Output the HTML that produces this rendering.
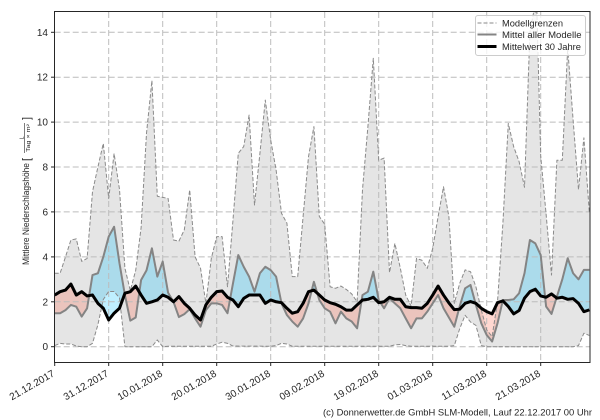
<!DOCTYPE html>
<html><head><meta charset="utf-8"><style>
html,body{margin:0;padding:0;background:#fff;width:600px;height:420px;overflow:hidden;}
svg{display:block;font-family:"Liberation Sans","DejaVu Sans",sans-serif;overflow:hidden;}
</style></head><body>
<svg width="600" height="420" viewBox="0 0 600 420" xmlns="http://www.w3.org/2000/svg">
<rect x="0" y="0" width="600" height="420" fill="#fff"/>
<defs>
<clipPath id="ax"><rect x="54.7" y="12" width="535.3" height="350.3"/></clipPath>
<clipPath id="aboveC" clipPathUnits="userSpaceOnUse"><polygon points="0,2.3 1,2.45 2,2.52 3,2.79 4,2.3 5,2.45 6,2.26 7,2.3 8,1.93 9,1.71 10,1.19 11,1.49 12,1.71 13,2.38 14,2.45 15,2.7 16,2.3 17,1.93 18,2 19,2.08 20,2.3 21,2.2 22,2 23,2.23 24,1.93 25,1.71 26,1.41 27,1.19 28,1.86 29,2.2 30,2.45 31,2.48 32,2.2 33,2.08 34,1.78 35,2.15 36,2.3 37,2.3 38,2.3 39,1.93 40,2.08 41,2 42,1.96 43,1.71 44,1.49 45,1.56 46,1.93 47,2.45 48,2.52 49,2.3 50,2.08 51,1.96 52,1.89 53,1.78 54,1.63 55,1.63 56,1.86 57,2.08 58,2.11 59,2.2 60,1.96 61,2 62,2.2 63,2.11 64,2.11 65,1.78 66,1.74 67,1.74 68,1.71 69,1.93 70,2.3 71,2.7 72,2.3 73,1.95 74,1.65 75,1.67 76,1.93 77,2.01 78,1.93 79,1.71 80,1.56 81,1.46 82,1.96 83,2.04 84,1.79 85,1.46 86,1.61 87,2.16 88,2.45 89,2.56 90,2.26 91,2.2 92,2.35 93,2.16 94,2.2 95,2.11 96,2.14 97,1.93 98,1.56 99,1.64 99.5,1.64 99.5,14.9 0,14.9"/></clipPath>
<clipPath id="belowC" clipPathUnits="userSpaceOnUse"><polygon points="0,2.3 1,2.45 2,2.52 3,2.79 4,2.3 5,2.45 6,2.26 7,2.3 8,1.93 9,1.71 10,1.19 11,1.49 12,1.71 13,2.38 14,2.45 15,2.7 16,2.3 17,1.93 18,2 19,2.08 20,2.3 21,2.2 22,2 23,2.23 24,1.93 25,1.71 26,1.41 27,1.19 28,1.86 29,2.2 30,2.45 31,2.48 32,2.2 33,2.08 34,1.78 35,2.15 36,2.3 37,2.3 38,2.3 39,1.93 40,2.08 41,2 42,1.96 43,1.71 44,1.49 45,1.56 46,1.93 47,2.45 48,2.52 49,2.3 50,2.08 51,1.96 52,1.89 53,1.78 54,1.63 55,1.63 56,1.86 57,2.08 58,2.11 59,2.2 60,1.96 61,2 62,2.2 63,2.11 64,2.11 65,1.78 66,1.74 67,1.74 68,1.71 69,1.93 70,2.3 71,2.7 72,2.3 73,1.95 74,1.65 75,1.67 76,1.93 77,2.01 78,1.93 79,1.71 80,1.56 81,1.46 82,1.96 83,2.04 84,1.79 85,1.46 86,1.61 87,2.16 88,2.45 89,2.56 90,2.26 91,2.2 92,2.35 93,2.16 94,2.2 95,2.11 96,2.14 97,1.93 98,1.56 99,1.64 99.5,1.64 99.5,-0.69 0,-0.69"/></clipPath>
</defs>

<g clip-path="url(#ax)">
 <g transform="translate(54.7 346.7) scale(5.4 -22.46)">
  <polygon fill="#e5e5e5" points="0,3.27 1,3.27 2,4 3,4.75 4,4.8 5,3.8 6,3.93 7,6.9 8,8 9,9.05 10,6.6 11,8.6 12,7 13,3.5 14,2.5 15,3.4 16,5.3 17,9.5 18,11.85 19,6.7 20,6.65 21,6.6 22,4.75 23,4.7 24,5.2 25,6.98 26,4 27,3.5 28,1.93 29,3.93 30,4.9 31,4.9 32,2.67 33,5.6 34,8.61 35,8.91 36,10.31 37,6.31 38,8.6 39,10.98 40,9.2 41,7.87 42,5.94 43,5.5 44,3.12 45,3.12 46,5.8 47,8.46 48,9.8 49,5.8 50,5.45 51,2.67 52,2.6 53,2.7 54,2.55 55,2.35 56,2 57,7 58,9.8 59,12.84 60,8.3 61,8.4 62,3.3 63,4.6 64,3.5 65,2.3 66,1.8 67,3.93 68,3.85 69,3.49 70,4.38 71,5.79 72,7.12 73,5.79 74,1.93 75,2.82 76,3.42 77,3.34 78,2.67 79,1.64 80,0.75 81,0.45 82,2 83,5.5 84,9.94 85,8.9 86,8.24 87,7.1 88,14 88.7,14.9 89.3,14.9 90,8.5 91,5.9 92,3.19 93,8.3 94,8.3 95,13.3 96,10.1 97,7 98,9.3 99,6 99,0.5 98,0.6 97,0.05 96,0 80,0 79,0.05 78,0.95 77,1.1 76,1.4 75,0.8 74,0.05 73,0.02 66,0.02 65,0.05 64,0.1 63,0.08 62,0.02 44,0.02 43,0.12 42,0.15 41,0.05 40,0.02 33,0.03 32,0.15 31,0.2 30,0.12 29,0.02 21,0.02 20,0 19,0.3 18,0 13,0 12,2.17 11,2.46 10,2.46 9,2.1 8,0.98 7,0.15 6,0 5,0 4,0.03 3,0.12 2,0.12 1,0.15 0,0.05"/>
  <polygon fill="#00bfff" fill-opacity="0.25" clip-path="url(#aboveC)" points="0,1.49 1,1.49 2,1.63 3,1.86 4,1.78 5,1.34 6,1.71 7,3.19 8,3.27 9,4 10,4.9 11,5.34 12,3.71 13,2.3 14,1.16 15,1.3 16,2.97 17,3.4 18,4.38 19,3.12 20,3.79 21,2.4 22,2 23,1.32 24,1.45 25,1.67 26,1.26 27,0.89 28,1.63 29,1.93 30,1.93 31,1.86 32,1.49 33,2.8 34,4.08 35,3.56 36,3.12 37,2.45 38,3.27 39,3.56 40,3.41 41,3.12 42,1.93 43,1.41 44,1.12 45,0.89 46,1.26 47,1.93 48,2.89 49,2.08 50,1.71 51,1.56 52,1.04 53,1.56 54,1.26 55,1.12 56,0.82 57,2.3 58,2.45 59,3.34 60,2.08 61,1.71 62,2.15 63,1.93 64,1.71 65,1.26 66,0.82 67,1.26 68,1.26 69,1.56 70,1.93 71,2.3 72,1.71 73,1.3 74,0.89 75,1.8 76,2.6 77,2.75 78,1.86 79,1.04 80,0.52 81,0.23 82,1.04 83,2.08 84,2.08 85,2.11 86,2.38 87,3.27 88,4.75 89,4.6 90,4.08 91,1.79 92,1.46 93,2.23 94,3 95,3.94 96,3.27 97,3 98,3.42 99,3.42 99,-0.69 0,-0.69"/>
  <polygon fill="#ff6347" fill-opacity="0.25" clip-path="url(#belowC)" points="0,1.49 1,1.49 2,1.63 3,1.86 4,1.78 5,1.34 6,1.71 7,3.19 8,3.27 9,4 10,4.9 11,5.34 12,3.71 13,2.3 14,1.16 15,1.3 16,2.97 17,3.4 18,4.38 19,3.12 20,3.79 21,2.4 22,2 23,1.32 24,1.45 25,1.67 26,1.26 27,0.89 28,1.63 29,1.93 30,1.93 31,1.86 32,1.49 33,2.8 34,4.08 35,3.56 36,3.12 37,2.45 38,3.27 39,3.56 40,3.41 41,3.12 42,1.93 43,1.41 44,1.12 45,0.89 46,1.26 47,1.93 48,2.89 49,2.08 50,1.71 51,1.56 52,1.04 53,1.56 54,1.26 55,1.12 56,0.82 57,2.3 58,2.45 59,3.34 60,2.08 61,1.71 62,2.15 63,1.93 64,1.71 65,1.26 66,0.82 67,1.26 68,1.26 69,1.56 70,1.93 71,2.3 72,1.71 73,1.3 74,0.89 75,1.8 76,2.6 77,2.75 78,1.86 79,1.04 80,0.52 81,0.23 82,1.04 83,2.08 84,2.08 85,2.11 86,2.38 87,3.27 88,4.75 89,4.6 90,4.08 91,1.79 92,1.46 93,2.23 94,3 95,3.94 96,3.27 97,3 98,3.42 99,3.42 99,14.9 0,14.9"/>
 </g>

 <g stroke="#bcbcbc" stroke-width="1" stroke-dasharray="6 3" fill="none">
  <line x1="54.7" y1="346.7" x2="590" y2="346.7"/>
  <line x1="54.7" y1="301.8" x2="590" y2="301.8"/>
  <line x1="54.7" y1="256.9" x2="590" y2="256.9"/>
  <line x1="54.7" y1="211.9" x2="590" y2="211.9"/>
  <line x1="54.7" y1="167" x2="590" y2="167"/>
  <line x1="54.7" y1="122.1" x2="590" y2="122.1"/>
  <line x1="54.7" y1="77.2" x2="590" y2="77.2"/>
  <line x1="54.7" y1="32.3" x2="590" y2="32.3"/>
  <line x1="108.7" y1="12" x2="108.7" y2="362"/>
  <line x1="162.7" y1="12" x2="162.7" y2="362"/>
  <line x1="216.7" y1="12" x2="216.7" y2="362"/>
  <line x1="270.7" y1="12" x2="270.7" y2="362"/>
  <line x1="324.7" y1="12" x2="324.7" y2="362"/>
  <line x1="378.7" y1="12" x2="378.7" y2="362"/>
  <line x1="432.7" y1="12" x2="432.7" y2="362"/>
  <line x1="486.7" y1="12" x2="486.7" y2="362"/>
  <line x1="540.7" y1="12" x2="540.7" y2="362"/>
 </g>

 <g transform="translate(54.7 346.7) scale(5.4 -22.46)" fill="none" stroke-linejoin="round">
  <polyline vector-effect="non-scaling-stroke" stroke="#8a8a8a" stroke-width="1" stroke-dasharray="4 2" points="0,3.27 1,3.27 2,4 3,4.75 4,4.8 5,3.8 6,3.93 7,6.9 8,8 9,9.05 10,6.6 11,8.6 12,7 13,3.5 14,2.5 15,3.4 16,5.3 17,9.5 18,11.85 19,6.7 20,6.65 21,6.6 22,4.75 23,4.7 24,5.2 25,6.98 26,4 27,3.5 28,1.93 29,3.93 30,4.9 31,4.9 32,2.67 33,5.6 34,8.61 35,8.91 36,10.31 37,6.31 38,8.6 39,10.98 40,9.2 41,7.87 42,5.94 43,5.5 44,3.12 45,3.12 46,5.8 47,8.46 48,9.8 49,5.8 50,5.45 51,2.67 52,2.6 53,2.7 54,2.55 55,2.35 56,2 57,7 58,9.8 59,12.84 60,8.3 61,8.4 62,3.3 63,4.6 64,3.5 65,2.3 66,1.8 67,3.93 68,3.85 69,3.49 70,4.38 71,5.79 72,7.12 73,5.79 74,1.93 75,2.82 76,3.42 77,3.34 78,2.67 79,1.64 80,0.75 81,0.45 82,2 83,5.5 84,9.94 85,8.9 86,8.24 87,7.1 88,14 88.7,14.9 89.3,14.9 90,8.5 91,5.9 92,3.19 93,8.3 94,8.3 95,13.3 96,10.1 97,7 98,9.3 99,6"/>
  <polyline vector-effect="non-scaling-stroke" stroke="#8a8a8a" stroke-width="1" stroke-dasharray="4 2" points="0,0.05 1,0.15 2,0.12 3,0.12 4,0.03 5,0 6,0 7,0.15 8,0.98 9,2.1 10,2.46 11,2.46 12,2.17 13,0 18,0 19,0.3 20,0 21,0.02 29,0.02 30,0.12 31,0.2 32,0.15 33,0.03 40,0.02 41,0.05 42,0.15 43,0.12 44,0.02 62,0.02 63,0.08 64,0.1 65,0.05 66,0.02 73,0.02 74,0.05 75,0.8 76,1.4 77,1.1 78,0.95 79,0.05 80,0 96,0 97,0.05 98,0.6 99,0.5"/>
  <polyline vector-effect="non-scaling-stroke" stroke="#848484" stroke-width="2" points="0,1.49 1,1.49 2,1.63 3,1.86 4,1.78 5,1.34 6,1.71 7,3.19 8,3.27 9,4 10,4.9 11,5.34 12,3.71 13,2.3 14,1.16 15,1.3 16,2.97 17,3.4 18,4.38 19,3.12 20,3.79 21,2.4 22,2 23,1.32 24,1.45 25,1.67 26,1.26 27,0.89 28,1.63 29,1.93 30,1.93 31,1.86 32,1.49 33,2.8 34,4.08 35,3.56 36,3.12 37,2.45 38,3.27 39,3.56 40,3.41 41,3.12 42,1.93 43,1.41 44,1.12 45,0.89 46,1.26 47,1.93 48,2.89 49,2.08 50,1.71 51,1.56 52,1.04 53,1.56 54,1.26 55,1.12 56,0.82 57,2.3 58,2.45 59,3.34 60,2.08 61,1.71 62,2.15 63,1.93 64,1.71 65,1.26 66,0.82 67,1.26 68,1.26 69,1.56 70,1.93 71,2.3 72,1.71 73,1.3 74,0.89 75,1.8 76,2.6 77,2.75 78,1.86 79,1.04 80,0.52 81,0.23 82,1.04 83,2.08 84,2.08 85,2.11 86,2.38 87,3.27 88,4.75 89,4.6 90,4.08 91,1.79 92,1.46 93,2.23 94,3 95,3.94 96,3.27 97,3 98,3.42 99,3.42"/>
  <polyline vector-effect="non-scaling-stroke" stroke="#000" stroke-width="3" points="0,2.3 1,2.45 2,2.52 3,2.79 4,2.3 5,2.45 6,2.26 7,2.3 8,1.93 9,1.71 10,1.19 11,1.49 12,1.71 13,2.38 14,2.45 15,2.7 16,2.3 17,1.93 18,2 19,2.08 20,2.3 21,2.2 22,2 23,2.23 24,1.93 25,1.71 26,1.41 27,1.19 28,1.86 29,2.2 30,2.45 31,2.48 32,2.2 33,2.08 34,1.78 35,2.15 36,2.3 37,2.3 38,2.3 39,1.93 40,2.08 41,2 42,1.96 43,1.71 44,1.49 45,1.56 46,1.93 47,2.45 48,2.52 49,2.3 50,2.08 51,1.96 52,1.89 53,1.78 54,1.63 55,1.63 56,1.86 57,2.08 58,2.11 59,2.2 60,1.96 61,2 62,2.2 63,2.11 64,2.11 65,1.78 66,1.74 67,1.74 68,1.71 69,1.93 70,2.3 71,2.7 72,2.3 73,1.95 74,1.65 75,1.67 76,1.93 77,2.01 78,1.93 79,1.71 80,1.56 81,1.46 82,1.96 83,2.04 84,1.79 85,1.46 86,1.61 87,2.16 88,2.45 89,2.56 90,2.26 91,2.2 92,2.35 93,2.16 94,2.2 95,2.11 96,2.14 97,1.93 98,1.56 99,1.64"/>
 </g>
</g>

<rect x="54.5" y="11.5" width="535.5" height="351" fill="none" stroke="#262626" stroke-width="1"/>

<g stroke="#262626" stroke-width="1">
 <line x1="51" y1="346.7" x2="54.5" y2="346.7"/>
 <line x1="51" y1="301.8" x2="54.5" y2="301.8"/>
 <line x1="51" y1="256.9" x2="54.5" y2="256.9"/>
 <line x1="51" y1="211.9" x2="54.5" y2="211.9"/>
 <line x1="51" y1="167" x2="54.5" y2="167"/>
 <line x1="51" y1="122.1" x2="54.5" y2="122.1"/>
 <line x1="51" y1="77.2" x2="54.5" y2="77.2"/>
 <line x1="51" y1="32.3" x2="54.5" y2="32.3"/>
 <line x1="54.7" y1="362.5" x2="54.7" y2="366"/>
 <line x1="108.7" y1="362.5" x2="108.7" y2="366"/>
 <line x1="162.7" y1="362.5" x2="162.7" y2="366"/>
 <line x1="216.7" y1="362.5" x2="216.7" y2="366"/>
 <line x1="270.7" y1="362.5" x2="270.7" y2="366"/>
 <line x1="324.7" y1="362.5" x2="324.7" y2="366"/>
 <line x1="378.7" y1="362.5" x2="378.7" y2="366"/>
 <line x1="432.7" y1="362.5" x2="432.7" y2="366"/>
 <line x1="486.7" y1="362.5" x2="486.7" y2="366"/>
 <line x1="540.7" y1="362.5" x2="540.7" y2="366"/>
</g>

<g font-size="10" fill="#262626" text-anchor="end">
 <text x="48" y="350.2">0</text>
 <text x="48" y="305.3">2</text>
 <text x="48" y="260.4">4</text>
 <text x="48" y="215.4">6</text>
 <text x="48" y="170.5">8</text>
 <text x="48" y="125.6">10</text>
 <text x="48" y="80.7">12</text>
 <text x="48" y="35.8">14</text>
</g>

<g font-size="10" fill="#262626" text-anchor="end">
 <text transform="translate(55.2 375.5) rotate(-30)" textLength="50" lengthAdjust="spacingAndGlyphs">21.12.2017</text>
 <text transform="translate(109.2 375.5) rotate(-30)" textLength="50" lengthAdjust="spacingAndGlyphs">31.12.2017</text>
 <text transform="translate(163.2 375.5) rotate(-30)" textLength="50" lengthAdjust="spacingAndGlyphs">10.01.2018</text>
 <text transform="translate(217.2 375.5) rotate(-30)" textLength="50" lengthAdjust="spacingAndGlyphs">20.01.2018</text>
 <text transform="translate(271.2 375.5) rotate(-30)" textLength="50" lengthAdjust="spacingAndGlyphs">30.01.2018</text>
 <text transform="translate(325.2 375.5) rotate(-30)" textLength="50" lengthAdjust="spacingAndGlyphs">09.02.2018</text>
 <text transform="translate(379.2 375.5) rotate(-30)" textLength="50" lengthAdjust="spacingAndGlyphs">19.02.2018</text>
 <text transform="translate(433.2 375.5) rotate(-30)" textLength="50" lengthAdjust="spacingAndGlyphs">01.03.2018</text>
 <text transform="translate(487.2 375.5) rotate(-30)" textLength="50" lengthAdjust="spacingAndGlyphs">11.03.2018</text>
 <text transform="translate(541.2 375.5) rotate(-30)" textLength="50" lengthAdjust="spacingAndGlyphs">21.03.2018</text>
</g>

<g transform="translate(29 265) rotate(-90)" fill="#262626">
 <text x="0" y="0" font-size="9.5" textLength="102" lengthAdjust="spacingAndGlyphs">Mittlere Niederschlagshöhe</text>
 <text x="104" y="1" font-size="11">[</text>
 <text x="127" y="-5.5" font-size="5.5" text-anchor="middle">L</text>
 <line x1="112" y1="-4.3" x2="142" y2="-4.3" stroke="#262626" stroke-width="0.6"/>
 <text x="127" y="0.8" font-size="5" text-anchor="middle" textLength="28" lengthAdjust="spacingAndGlyphs">Tag × m²</text>
 <text x="145" y="1" font-size="11">]</text>
</g>

<rect x="475.5" y="15.5" width="110" height="40" rx="2.5" fill="#fff" fill-opacity="0.8" stroke="#cccccc" stroke-width="1"/>
<line x1="477.5" y1="23" x2="496.5" y2="23" stroke="#8a8a8a" stroke-width="1" stroke-dasharray="4 2"/>
<line x1="477.5" y1="34.5" x2="496.5" y2="34.5" stroke="#848484" stroke-width="2"/>
<line x1="477.5" y1="46.5" x2="496.5" y2="46.5" stroke="#000" stroke-width="3"/>
<g font-size="9.5" fill="#262626">
 <text x="502" y="26.3" textLength="61" lengthAdjust="spacingAndGlyphs">Modellgrenzen</text>
 <text x="502" y="37.8" textLength="79.5" lengthAdjust="spacingAndGlyphs">Mittel aller Modelle</text>
 <text x="502" y="49.8" textLength="79" lengthAdjust="spacingAndGlyphs">Mittelwert 30 Jahre</text>
</g>

<text x="592" y="415.5" font-size="9.5" fill="#262626" text-anchor="end" textLength="269" lengthAdjust="spacingAndGlyphs">(c) Donnerwetter.de GmbH SLM-Modell, Lauf 22.12.2017 00 Uhr</text>
</svg>
</body></html>
